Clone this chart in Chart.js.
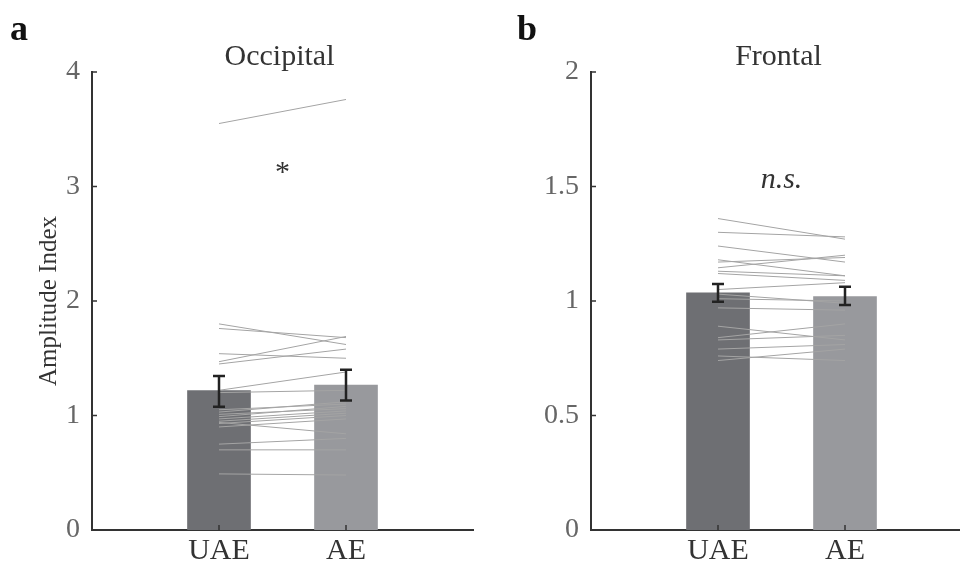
<html>
  <head>
    <script src="https://cdn.jsdelivr.net/npm/chart.js@4.4.1/dist/chart.umd.min.js"></script>
    <style>
      body { margin: 0; background: #fff; overflow: hidden; width: 960px; height: 570px; position: relative; }
      canvas { position: absolute; top: 0; }
    </style>
  </head>
  <body>
    <canvas id="occChart" width="480" height="570" style="left:0px"></canvas>
    <canvas id="froChart" width="480" height="570" style="left:500px"></canvas>
    <script>
      // conditions (x positions 1 and 2 on a 0..3 axis)
      const categories = ['UAE', 'AE'];
      const catPos = [1, 2];

      // Occipital panel
      const occMean = [1.217, 1.266];
      const occLo = [1.077, 1.13];
      const occHi = [1.345, 1.40];
      const occUAE = [3.55, 1.80, 1.76, 1.54, 1.47, 1.45, 1.22, 1.20, 1.05, 1.03, 1.01, 0.99, 0.97, 0.95, 0.93, 0.90, 0.94, 0.75, 0.70, 0.49];
      const occAE  = [3.76, 1.62, 1.68, 1.50, 1.69, 1.58, 1.38, 1.22, 1.10, 1.12, 1.06, 1.08, 1.04, 1.02, 1.00, 0.97, 0.84, 0.80, 0.70, 0.48];
      const occTicks = [0, 1, 2, 3, 4];

      // Frontal panel
      const froMean = [1.036, 1.019];
      const froLo = [0.997, 0.983];
      const froHi = [1.074, 1.062];
      const froUAE = [1.36, 1.30, 1.24, 1.18, 1.17, 1.145, 1.13, 1.12, 1.05, 1.03, 1.01, 0.97, 0.89, 0.84, 0.83, 0.79, 0.74, 0.76];
      const froAE  = [1.27, 1.28, 1.17, 1.11, 1.19, 1.20, 1.11, 1.09, 1.08, 0.99, 1.00, 0.96, 0.83, 0.90, 0.85, 0.81, 0.79, 0.74];
      const froTicks = [0, 0.5, 1, 1.5, 2];

      const SERIF = '"Liberation Serif", "DejaVu Serif", serif';
      const BAR_COLORS = ['#6e6f73', '#98999d'];

      function makePanel(id, opt) {
        const datasets = [{
          type: 'bar',
          data: catPos.map((x, i) => ({x: x, y: opt.mean[i]})),
          backgroundColor: BAR_COLORS,
          barThickness: 63,
          order: 3
        }];
        opt.a.forEach(function(v, i) {
          datasets.push({
            type: 'line',
            data: [{x: catPos[0], y: v}, {x: catPos[1], y: opt.b[i]}],
            borderColor: '#a4a4a4',
            borderWidth: 1,
            pointRadius: 0,
            order: 2
          });
        });

        const panelPlugin = {
          id: 'panel',
          afterDatasetsDraw(chart) {
            const ctx = chart.ctx, xs = chart.scales.x, ys = chart.scales.y;
            ctx.save();
            ctx.strokeStyle = '#222';
            ctx.lineWidth = 2.5;
            catPos.forEach(function(x, i) {
              const px = xs.getPixelForValue(x);
              const top = ys.getPixelForValue(opt.hi[i]);
              const bot = ys.getPixelForValue(opt.lo[i]);
              ctx.beginPath();
              ctx.moveTo(px, top); ctx.lineTo(px, bot);
              ctx.moveTo(px - 6, top); ctx.lineTo(px + 6, top);
              ctx.moveTo(px - 6, bot); ctx.lineTo(px + 6, bot);
              ctx.stroke();
            });
            ctx.restore();
          },
          afterDraw(chart) {
            const ctx = chart.ctx, xs = chart.scales.x, ys = chart.scales.y, ca = chart.chartArea;
            ctx.save();
            // inward tick marks
            ctx.strokeStyle = '#333';
            ctx.lineWidth = 1.5;
            ctx.beginPath();
            opt.ticks.forEach(function(t) {
              const py = ys.getPixelForValue(t);
              ctx.moveTo(ca.left, py); ctx.lineTo(ca.left + 5, py);
            });
            catPos.forEach(function(x) {
              const px = xs.getPixelForValue(x);
              ctx.moveTo(px, ca.bottom); ctx.lineTo(px, ca.bottom - 5);
            });
            ctx.stroke();
            // panel title
            ctx.fillStyle = '#333';
            ctx.textAlign = 'center';
            ctx.textBaseline = 'middle';
            ctx.font = '30px ' + SERIF;
            ctx.fillText(opt.title, (ca.left + ca.right) / 2 - 3, 57);
            // significance mark
            ctx.font = opt.markFont;
            ctx.fillText(opt.mark, xs.getPixelForValue(1.5), ys.getPixelForValue(opt.markY));
            // panel letter
            ctx.fillStyle = '#111';
            ctx.textAlign = 'left';
            ctx.textBaseline = 'alphabetic';
            ctx.font = 'bold 36px ' + SERIF;
            ctx.fillText(opt.letter, opt.letterX, 40);
            ctx.restore();
          }
        };

        return new Chart(document.getElementById(id), {
          data: {datasets: datasets},
          plugins: [panelPlugin],
          options: {
            responsive: false,
            animation: false,
            devicePixelRatio: 1,
            layout: {padding: {left: 0, right: opt.padRight, top: 72, bottom: 0}},
            plugins: {legend: {display: false}, tooltip: {enabled: false}},
            scales: {
              x: {
                type: 'linear',
                min: 0,
                max: 3,
                offset: false,
                afterBuildTicks: function(s) { s.ticks = catPos.map(v => ({value: v})); },
                afterFit: function(s) { s.height = 40; },
                ticks: {
                  callback: function(v) { return categories[catPos.indexOf(v)]; },
                  font: {family: SERIF, size: 30},
                  color: '#333',
                  padding: 3,
                  maxRotation: 0
                },
                grid: {display: false, drawTicks: false},
                border: {color: '#333', width: 2}
              },
              y: {
                min: 0,
                max: opt.ticks[opt.ticks.length - 1],
                afterBuildTicks: function(s) { s.ticks = opt.ticks.map(v => ({value: v})); },
                afterFit: function(s) { s.width = opt.yWidth; },
                ticks: {
                  callback: function(v) { return String(v); },
                  font: {family: SERIF, size: 28},
                  color: '#666',
                  padding: 12
                },
                title: {
                  display: opt.yTitle !== '',
                  text: opt.yTitle,
                  font: {family: SERIF, size: 25},
                  color: '#333',
                  padding: {top: 34, bottom: 0}
                },
                grid: {display: false, drawTicks: false},
                border: {color: '#333', width: 2}
              }
            }
          }
        });
      }

      window.onload = function() {
        makePanel('occChart', {
          mean: occMean, lo: occLo, hi: occHi, a: occUAE, b: occAE, ticks: occTicks,
          title: 'Occipital', mark: '*', markY: 3.12, markFont: '30px ' + SERIF,
          letter: 'a', letterX: 10, yTitle: 'Amplitude Index', yWidth: 92, padRight: 7
        });
        makePanel('froChart', {
          mean: froMean, lo: froLo, hi: froHi, a: froUAE, b: froAE, ticks: froTicks,
          title: 'Frontal', mark: 'n.s.', markY: 1.53, markFont: 'italic 30px ' + SERIF,
          letter: 'b', letterX: 17, yTitle: '', yWidth: 91, padRight: 8
        });
      };
    </script>
  </body>
</html>
